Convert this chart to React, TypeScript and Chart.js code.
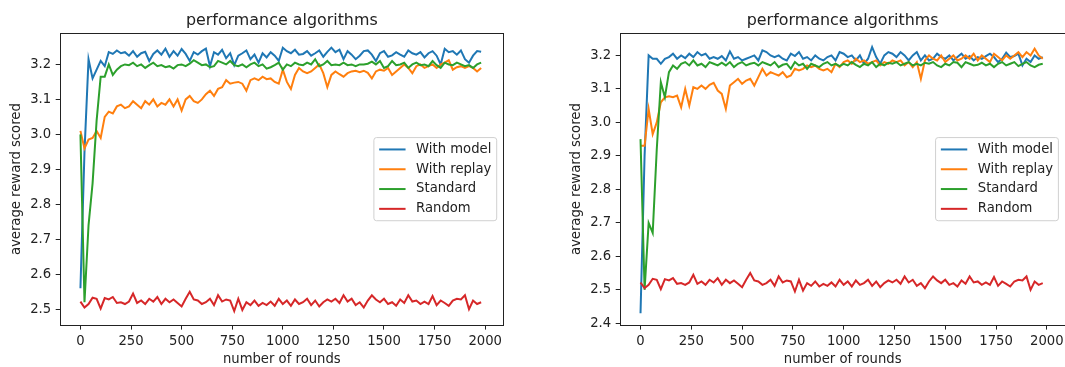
import React, { useEffect, useRef } from 'react';
import { Chart, registerables } from 'chart.js';

Chart.register(...registerables);

const FONT = '"DejaVu Sans", "Liberation Sans", sans-serif';
const TEXT = '#222';
const BASE = 13.2;
const TITLE_SIZE = 15.9;

const TITLE = 'performance algorithms';
const X_LABEL = 'number of rounds';
const Y_LABEL = 'average reward scored';
const SERIES_NAMES = ['With model', 'With replay', 'Standard', 'Random'];
const COLORS = ['#1f77b4', '#ff7f0e', '#2ca02c', '#d62728'];

const X_TICKS = [0, 250, 500, 750, 1000, 1250, 1500, 1750, 2000];
const LEFT_Y_TICKS = [2.5, 2.6, 2.7, 2.8, 2.9, 3.0, 3.1, 3.2];
const RIGHT_Y_TICKS = [2.4, 2.5, 2.6, 2.7, 2.8, 2.9, 3.0, 3.1, 3.2];

// rounds sampled every 20 (0 .. 1980)
const ROUNDS = Array.from({ length: 100 }, (_, i) => i * 20);

// ---- left chart ----
const L_MODEL = [
  2.56, 2.95, 3.215, 3.16, 3.185, 3.21, 3.195, 3.235, 3.23, 3.24,
  3.232, 3.235, 3.225, 3.238, 3.222, 3.232, 3.236, 3.21, 3.23, 3.24,
  3.228, 3.245, 3.222, 3.238, 3.225, 3.244, 3.23, 3.21, 3.235, 3.228,
  3.238, 3.245, 3.195, 3.235, 3.228, 3.242, 3.218, 3.232, 3.198, 3.225,
  3.232, 3.24, 3.215, 3.228, 3.205, 3.232, 3.22, 3.235, 3.225, 3.21,
  3.248, 3.238, 3.232, 3.242, 3.228, 3.23, 3.238, 3.225, 3.232, 3.24,
  3.222, 3.236, 3.248, 3.235, 3.242, 3.215, 3.238, 3.228, 3.215, 3.225,
  3.238, 3.24, 3.228, 3.21, 3.232, 3.238, 3.222, 3.226, 3.235, 3.228,
  3.222, 3.24, 3.232, 3.228, 3.235, 3.22, 3.232, 3.238, 3.225, 3.2,
  3.245, 3.235, 3.238, 3.228, 3.24, 3.215, 3.205, 3.225, 3.238, 3.236,
];
const L_REPLAY = [
  3.01, 2.96, 2.985, 2.99, 3.01, 2.99, 3.05, 3.065, 3.06, 3.08,
  3.085, 3.075, 3.08, 3.095, 3.085, 3.075, 3.095, 3.085, 3.1, 3.08,
  3.09, 3.085, 3.1, 3.08, 3.1, 3.068, 3.1, 3.11, 3.095, 3.09,
  3.1, 3.115, 3.125, 3.11, 3.13, 3.135, 3.155, 3.145, 3.148, 3.15,
  3.145, 3.125, 3.155, 3.16, 3.155, 3.165, 3.158, 3.16, 3.15, 3.145,
  3.185, 3.15, 3.13, 3.17, 3.19, 3.18, 3.175, 3.18, 3.19, 3.2,
  3.175, 3.135, 3.17, 3.18, 3.172, 3.165, 3.175, 3.18, 3.182, 3.178,
  3.182, 3.176, 3.16, 3.18, 3.185, 3.182, 3.19, 3.17, 3.18, 3.19,
  3.2, 3.19, 3.175, 3.195, 3.2, 3.19, 3.195, 3.2, 3.19, 3.2,
  3.205, 3.212, 3.185, 3.192, 3.195, 3.19, 3.195, 3.19, 3.18, 3.19,
];
const L_STANDARD = [
  3.0, 2.52, 2.74, 2.86, 3.04, 3.165, 3.165, 3.2, 3.17, 3.185,
  3.195, 3.2, 3.198, 3.205, 3.195, 3.2, 3.19, 3.198, 3.205, 3.195,
  3.198, 3.192, 3.195, 3.188, 3.198, 3.2, 3.195, 3.202, 3.212, 3.205,
  3.198, 3.2, 3.192, 3.195, 3.21, 3.205, 3.2, 3.21, 3.198, 3.195,
  3.2, 3.192, 3.2, 3.205, 3.195, 3.2, 3.188, 3.192, 3.198, 3.205,
  3.185, 3.2, 3.195, 3.205, 3.2, 3.198, 3.205, 3.2, 3.215, 3.195,
  3.2, 3.21, 3.198, 3.2, 3.198, 3.205, 3.198, 3.2, 3.195, 3.2,
  3.2, 3.202, 3.208, 3.2, 3.21, 3.19, 3.195, 3.21, 3.198, 3.2,
  3.205, 3.19, 3.2, 3.205, 3.198, 3.2, 3.195, 3.21, 3.198, 3.19,
  3.205, 3.2, 3.198, 3.205, 3.2, 3.195, 3.198, 3.19, 3.2, 3.205,
];
// random baseline (same in both charts)
const RANDOM = [
  2.522, 2.505, 2.515, 2.533, 2.53, 2.502, 2.532, 2.528, 2.535, 2.518,
  2.52, 2.515, 2.522, 2.545, 2.518, 2.525, 2.515, 2.53, 2.522, 2.535,
  2.515, 2.53, 2.52, 2.528, 2.518, 2.508, 2.53, 2.55, 2.528, 2.525,
  2.515, 2.52, 2.53, 2.512, 2.54, 2.522, 2.528, 2.525, 2.495, 2.53,
  2.498, 2.52, 2.512, 2.525, 2.51, 2.518, 2.512, 2.522, 2.51, 2.53,
  2.515, 2.525, 2.51, 2.528, 2.515, 2.52, 2.53, 2.512, 2.525, 2.508,
  2.52, 2.528, 2.522, 2.53, 2.518, 2.54, 2.522, 2.53, 2.512, 2.52,
  2.505, 2.525, 2.54, 2.528, 2.52, 2.53, 2.515, 2.52, 2.51, 2.528,
  2.518, 2.54, 2.522, 2.525, 2.515, 2.522, 2.515, 2.538, 2.512, 2.525,
  2.518, 2.51, 2.525, 2.53, 2.528, 2.54, 2.5, 2.525, 2.515, 2.52,
];

// ---- right chart ----
const R_MODEL = [
  2.43, 2.9, 3.2, 3.19, 3.19, 3.175, 3.19, 3.195, 3.205, 3.19,
  3.2, 3.192, 3.205, 3.195, 3.21, 3.2, 3.205, 3.19, 3.195, 3.19,
  3.198, 3.185, 3.212, 3.19, 3.195, 3.185, 3.19, 3.195, 3.2, 3.185,
  3.215, 3.21, 3.2, 3.195, 3.2, 3.19, 3.185, 3.205, 3.198, 3.21,
  3.19, 3.195, 3.185, 3.2, 3.19, 3.185, 3.195, 3.2, 3.185, 3.21,
  3.205, 3.195, 3.2, 3.185, 3.2, 3.175, 3.19, 3.225, 3.195, 3.175,
  3.2, 3.21, 3.205, 3.195, 3.21, 3.2, 3.185, 3.2, 3.21, 3.185,
  3.2, 3.185, 3.19, 3.205, 3.195, 3.19, 3.2, 3.185, 3.195, 3.205,
  3.19, 3.198, 3.185, 3.195, 3.19, 3.198, 3.205, 3.195, 3.18, 3.19,
  3.208, 3.195, 3.198, 3.205, 3.17, 3.19, 3.18, 3.2, 3.19, 3.195,
];
const R_REPLAY = [
  2.93, 2.93, 3.04, 2.965, 3.0, 3.06, 3.075, 3.078, 3.075, 3.08,
  3.045, 3.1, 3.05, 3.105, 3.1, 3.11, 3.1, 3.112, 3.118, 3.095,
  3.085, 3.04, 3.11, 3.12, 3.13, 3.115, 3.125, 3.13, 3.11, 3.135,
  3.16, 3.14, 3.15, 3.145, 3.14, 3.15, 3.135, 3.14, 3.16, 3.155,
  3.16, 3.17, 3.165, 3.17, 3.16, 3.155, 3.16, 3.15, 3.175, 3.165,
  3.18, 3.185, 3.175, 3.19, 3.18, 3.185, 3.175, 3.18, 3.185, 3.17,
  3.18, 3.175, 3.185, 3.18, 3.185, 3.17, 3.18, 3.165, 3.18, 3.13,
  3.185, 3.2, 3.19, 3.185, 3.2, 3.18, 3.19, 3.2, 3.185, 3.19,
  3.2, 3.19, 3.205, 3.185, 3.2, 3.19, 3.18, 3.205, 3.195, 3.185,
  3.2, 3.19, 3.2, 3.21, 3.195, 3.21, 3.2, 3.22, 3.2, 3.19,
];
const R_STANDARD = [
  2.95, 2.5, 2.7, 2.67, 2.92, 3.12, 3.075, 3.15, 3.17, 3.16,
  3.175, 3.18, 3.17, 3.185, 3.17, 3.175, 3.165, 3.18, 3.175, 3.17,
  3.178, 3.17, 3.18, 3.165, 3.175, 3.18, 3.17, 3.175, 3.178, 3.17,
  3.18, 3.175, 3.17, 3.18, 3.165, 3.172, 3.175, 3.16, 3.18, 3.17,
  3.175, 3.16, 3.175, 3.17, 3.165, 3.175, 3.18, 3.17, 3.175, 3.168,
  3.175, 3.17, 3.18, 3.172, 3.165, 3.175, 3.17, 3.18, 3.165, 3.175,
  3.17, 3.178, 3.175, 3.18, 3.17, 3.175, 3.18, 3.17, 3.175, 3.17,
  3.178, 3.175, 3.18, 3.17, 3.165, 3.175, 3.17, 3.18, 3.178, 3.165,
  3.18, 3.175, 3.17, 3.172, 3.178, 3.17, 3.175, 3.165, 3.175, 3.18,
  3.17, 3.175, 3.18, 3.168, 3.175, 3.18, 3.17, 3.165, 3.172, 3.175,
];

function makeDecor() {
  return {
    id: 'mplDecor',
    afterDraw(chart: any) {
      const { ctx, chartArea: a } = chart;
      ctx.save();
      // spines (full box)
      ctx.strokeStyle = TEXT;
      ctx.lineWidth = 1;
      ctx.strokeRect(
        Math.round(a.left) + 0.5,
        Math.round(a.top) + 0.5,
        Math.round(a.right) - Math.round(a.left),
        Math.round(a.bottom) - Math.round(a.top)
      );
      // title centered over axes
      ctx.fillStyle = TEXT;
      ctx.font = `${TITLE_SIZE}px ${FONT}`;
      ctx.textAlign = 'center';
      ctx.textBaseline = 'alphabetic';
      ctx.fillText(TITLE, (a.left + a.right) / 2, 25);

      // legend (matplotlib style)
      const fs = BASE;
      ctx.font = `${fs}px ${FONT}`;
      const ds = chart.data.datasets;
      const tw = Math.max(...ds.map((d: any) => ctx.measureText(d.label).width));
      const pad = 0.4 * fs;
      const hl = 2 * fs;
      const htp = 0.8 * fs;
      const ls = 0.5 * fs;
      const rowH = fs;
      const w = pad * 2 + hl + htp + tw;
      const h = pad * 2 + ds.length * rowH + (ds.length - 1) * ls;
      const x0 = a.right - 0.5 * fs - w;
      const y0 = (a.top + a.bottom) / 2 - h / 2;
      const r = 0.2 * fs;
      ctx.beginPath();
      ctx.moveTo(x0 + r, y0);
      ctx.lineTo(x0 + w - r, y0);
      ctx.quadraticCurveTo(x0 + w, y0, x0 + w, y0 + r);
      ctx.lineTo(x0 + w, y0 + h - r);
      ctx.quadraticCurveTo(x0 + w, y0 + h, x0 + w - r, y0 + h);
      ctx.lineTo(x0 + r, y0 + h);
      ctx.quadraticCurveTo(x0, y0 + h, x0, y0 + h - r);
      ctx.lineTo(x0, y0 + r);
      ctx.quadraticCurveTo(x0, y0, x0 + r, y0);
      ctx.closePath();
      ctx.fillStyle = 'rgba(255,255,255,0.8)';
      ctx.fill();
      ctx.strokeStyle = '#d0d0d0';
      ctx.lineWidth = 1;
      ctx.stroke();
      ds.forEach((d: any, i: number) => {
        const cy = y0 + pad + i * (rowH + ls) + rowH / 2;
        ctx.beginPath();
        ctx.moveTo(x0 + pad, cy);
        ctx.lineTo(x0 + pad + hl, cy);
        ctx.strokeStyle = d.borderColor;
        ctx.lineWidth = 2;
        ctx.stroke();
        ctx.fillStyle = TEXT;
        ctx.textAlign = 'left';
        ctx.textBaseline = 'middle';
        ctx.fillText(d.label, x0 + pad + hl + htp, cy);
      });
      ctx.restore();
    },
  };
}

type Props = {
  series: number[][];
  yMin: number;
  yMax: number;
  yTicks: number[];
  padRight: number;
  width: number;
  left: number;
};

function PerfChart({ series, yMin, yMax, yTicks, padRight, width, left }: Props) {
  const ref = useRef<HTMLCanvasElement | null>(null);
  useEffect(() => {
    if (!ref.current) return;
    const font = { family: FONT, size: BASE };
    const chart = new Chart(ref.current, {
      type: 'line',
      data: {
        datasets: series.map((vals, i) => ({
          label: SERIES_NAMES[i],
          data: ROUNDS.map((x, j) => ({ x, y: vals[j] })),
          borderColor: COLORS[i],
          backgroundColor: COLORS[i],
          borderWidth: 2,
          pointRadius: 0,
          tension: 0,
          fill: false,
          order: series.length - i,
        })),
      },
      options: {
        animation: false,
        responsive: false,
        devicePixelRatio: 1,
        layout: { padding: { left: 0, right: padRight, top: 33.3, bottom: 0 } },
        plugins: {
          legend: { display: false },
          tooltip: { enabled: false },
          title: { display: false },
        },
        scales: {
          x: {
            type: 'linear',
            min: -99.5,
            max: 2089.5,
            afterBuildTicks: (s: any) => {
              s.ticks = X_TICKS.map((v) => ({ value: v }));
            },
            afterFit: (s: any) => {
              s.height = 42;
              s.paddingLeft = 0;
              s.paddingRight = 0;
            },
            ticks: {
              autoSkip: false,
              maxRotation: 0,
              minRotation: 0,
              padding: 4,
              color: TEXT,
              font,
              callback: (v: any) => String(v),
            },
            grid: { drawOnChartArea: false, drawTicks: true, tickLength: 4.6, color: TEXT, lineWidth: 1 },
            border: { display: false },
            title: { display: true, text: X_LABEL, color: TEXT, font, padding: { top: 0, bottom: 0 } },
          },
          y: {
            type: 'linear',
            min: yMin,
            max: yMax,
            afterBuildTicks: (s: any) => {
              s.ticks = yTicks.map((v) => ({ value: v }));
            },
            afterFit: (s: any) => {
              s.width = 60.3;
              s.paddingTop = 0;
              s.paddingBottom = 0;
            },
            ticks: {
              autoSkip: false,
              padding: 4.6,
              color: TEXT,
              font,
              callback: (v: any) => Number(v).toFixed(1),
            },
            grid: { drawOnChartArea: false, drawTicks: true, tickLength: 4.6, color: TEXT, lineWidth: 1 },
            border: { display: false },
            title: { display: true, text: Y_LABEL, color: TEXT, font, padding: { top: 8.5, bottom: 0 } },
          },
        },
      } as any,
      plugins: [makeDecor()],
    });
    return () => chart.destroy();
  }, []);
  return (
    <canvas
      ref={ref}
      width={width}
      height={367}
      style={{ position: 'absolute', left, top: 0, width, height: 367 }}
    />
  );
}

export default function App() {
  return (
    <div
      style={{
        position: 'fixed',
        left: 0,
        top: 0,
        width: 1065,
        height: 367,
        background: '#fff',
        overflow: 'hidden',
      }}
    >
      <PerfChart
        series={[L_MODEL, L_REPLAY, L_STANDARD, RANDOM]}
        yMin={2.455}
        yMax={3.289}
        yTicks={LEFT_Y_TICKS}
        padRight={26.7}
        width={530}
        left={0}
      />
      <PerfChart
        series={[R_MODEL, R_REPLAY, R_STANDARD, RANDOM]}
        yMin={2.395}
        yMax={3.266}
        yTicks={RIGHT_Y_TICKS}
        padRight={0}
        width={505}
        left={560}
      />
    </div>
  );
}
